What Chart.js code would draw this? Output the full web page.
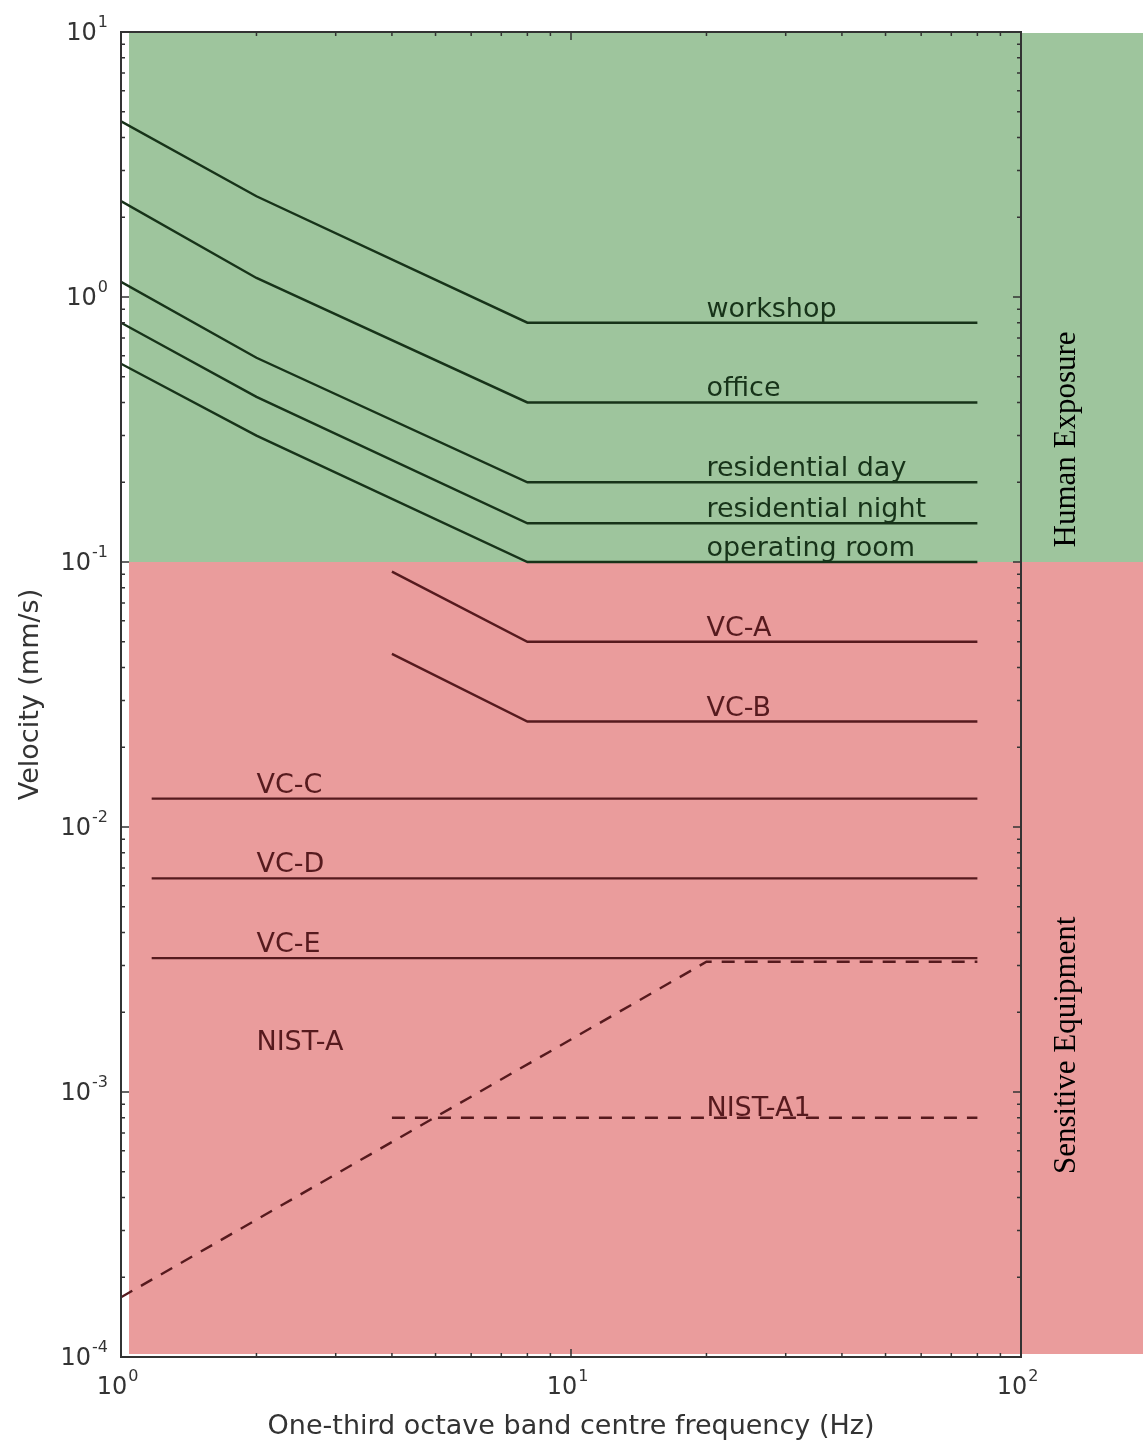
<!DOCTYPE html>
<html>
<head>
<meta charset="utf-8">
<script src="https://cdn.jsdelivr.net/npm/chart.js@4.4.1/dist/chart.umd.min.js"></script>
<style>
    body { margin: 0; background: #fff; }
    #wrap { width: 1143px; height: 1443px; }
</style>
</head>
<body>
<div id="wrap"><canvas id="vibChart" width="1143" height="1443"></canvas></div>
<script>
// frequencies (Hz) and velocities (mm/s)
const freqHuman = [1, 2, 8, 80];
const workshop = [4.6, 2.4, 0.8, 0.8];
const office = [2.3, 1.18, 0.4, 0.4];
const residentialDay = [1.14, 0.59, 0.2, 0.2];
const residentialNight = [0.8, 0.42, 0.14, 0.14];
const operatingRoom = [0.56, 0.3, 0.1, 0.1];

const freqVcAB = [4, 8, 80];
const vcA = [0.092, 0.05, 0.05];
const vcB = [0.045, 0.025, 0.025];

const freqVcCDE = [1.17, 80];
const vcC = [0.0128, 0.0128];
const vcD = [0.0064, 0.0064];
const vcE = [0.0032, 0.0032];

const freqNistA = [1, 20, 80];
const nistA = [0.000168, 0.0031, 0.0031];
const freqNistA1 = [4, 80];
const nistA1 = [0.0008, 0.0008];

// curve labels: text, frequency of the left edge, velocity it sits on
const labelText = ["workshop", "office", "residential day", "residential night", "operating room",
    "VC-A", "VC-B", "VC-C", "VC-D", "VC-E", "NIST-A", "NIST-A1"];
const labelFreq = [20, 20, 20, 20, 20, 20, 20, 2, 2, 2, 2, 20];
const labelVel = [0.8, 0.4, 0.2, 0.14, 0.1, 0.05, 0.025, 0.0128, 0.0064, 0.0032, 0.00137, 0.00077];

const xDecades = [1, 10, 100];
const yDecades = [10, 1, 0.1, 0.01, 0.001, 0.0001];

const GREEN = "rgb(158,197,157)";
const RED = "rgb(234,156,156)";
const LINE_G = "#173319";
const LINE_R = "#561a1e";

function pts(xs, ys) {
    return xs.map((x, i) => ({ x: x, y: ys[i] }));
}

function series(name, xs, ys, color, dashed) {
    return {
        label: name,
        data: pts(xs, ys),
        borderColor: color,
        borderWidth: 2.4,
        borderDash: dashed ? [13, 10] : [],
        pointRadius: 0,
        fill: false,
        tension: 0,
    };
}

function drawPow(ctx, exp, x, y, align) {
    ctx.font = "24px 'DejaVu Sans'";
    const wBase = ctx.measureText("10").width;
    ctx.font = "16px 'DejaVu Sans'";
    const wExp = ctx.measureText(exp).width;
    let left = x;
    if (align === "right") left = x - wBase - wExp;
    if (align === "center") left = x - (wBase + wExp) / 2;
    ctx.textAlign = "left";
    ctx.textBaseline = "middle";
    ctx.font = "24px 'DejaVu Sans'";
    ctx.fillText("10", left, y);
    ctx.font = "16px 'DejaVu Sans'";
    ctx.fillText(exp, left + wBase + 1, y - 11);
}

const bandsPlugin = {
    id: "bands",
    beforeDatasetsDraw(chart) {
        const { ctx, chartArea } = chart;
        const y = chart.scales.y;
        const top = y.getPixelForValue(10);
        const mid = y.getPixelForValue(0.1);
        const bot = y.getPixelForValue(0.0001);
        const left = chartArea.left + 8;
        ctx.save();
        ctx.fillStyle = GREEN;
        ctx.fillRect(left, top + 1, chart.width - left, mid - top - 1);
        ctx.fillStyle = RED;
        ctx.fillRect(left, mid, chart.width - left, bot - 3 - mid);
        ctx.restore();
    },
};

const axesPlugin = {
    id: "axesText",
    afterDraw(chart) {
        const { ctx, chartArea } = chart;
        const x = chart.scales.x;
        const y = chart.scales.y;
        const L = chartArea.left, R = chartArea.right, T = chartArea.top, B = chartArea.bottom;
        ctx.save();

        // frame
        ctx.strokeStyle = "#333";
        ctx.lineWidth = 2;
        ctx.strokeRect(L, T, R - L, B - T);

        // inward ticks, major + minor
        ctx.lineWidth = 1.5;
        ctx.beginPath();
        for (let d = 1; d < 100; d *= 10) {
            for (let m = 1; m < 10; m++) {
                const px = x.getPixelForValue(d * m);
                const len = m === 1 ? 8 : 4;
                ctx.moveTo(px, B); ctx.lineTo(px, B - len);
                ctx.moveTo(px, T); ctx.lineTo(px, T + len);
            }
        }
        for (let d = 0.0001; d < 10; d *= 10) {
            for (let m = 1; m < 10; m++) {
                const py = y.getPixelForValue(d * m);
                const len = m === 1 ? 8 : 4;
                ctx.moveTo(L, py); ctx.lineTo(L + len, py);
                ctx.moveTo(R, py); ctx.lineTo(R - len, py);
            }
        }
        ctx.stroke();

        // tick labels
        ctx.fillStyle = "#333";
        xDecades.forEach((v) => {
            drawPow(ctx, String(Math.round(Math.log10(v))), x.getPixelForValue(v) - 4, B + 31, "center");
        });
        yDecades.forEach((v) => {
            const e = Math.round(Math.log10(v));
            drawPow(ctx, e < 0 ? "-" + (-e) : String(e), L - 14, y.getPixelForValue(v) + 2, "right");
        });

        // axis titles
        ctx.font = "27px 'DejaVu Sans'";
        ctx.textAlign = "center";
        ctx.textBaseline = "alphabetic";
        ctx.fillText("One-third octave band centre frequency (Hz)", (L + R) / 2, 1434);
        ctx.save();
        ctx.translate(38, (T + B) / 2);
        ctx.rotate(-Math.PI / 2);
        ctx.fillText("Velocity (mm/s)", 0, 0);
        ctx.restore();

        // curve labels
        ctx.font = "27px 'DejaVu Sans'";
        ctx.textAlign = "left";
        ctx.textBaseline = "alphabetic";
        labelText.forEach((t, i) => {
            ctx.fillStyle = labelVel[i] >= 0.1 ? LINE_G : LINE_R;
            ctx.fillText(t, x.getPixelForValue(labelFreq[i]), y.getPixelForValue(labelVel[i]) - 6);
        });

        // band labels
        ctx.fillStyle = "#000";
        ctx.font = "31px 'Liberation Serif'";
        ctx.textAlign = "center";
        ctx.textBaseline = "middle";
        [["Human Exposure", 0.29], ["Sensitive Equipment", 0.0015]].forEach(([t, v]) => {
            ctx.save();
            ctx.translate(1067, y.getPixelForValue(v));
            ctx.rotate(-Math.PI / 2);
            ctx.fillText(t, 0, 0);
            ctx.restore();
        });
        ctx.restore();
    },
};

const vibChart = new Chart(document.getElementById("vibChart"), {
    type: "line",
    data: {
        datasets: [
            series("workshop", freqHuman, workshop, LINE_G),
            series("office", freqHuman, office, LINE_G),
            series("residential day", freqHuman, residentialDay, LINE_G),
            series("residential night", freqHuman, residentialNight, LINE_G),
            series("operating room", freqHuman, operatingRoom, LINE_G),
            series("VC-A", freqVcAB, vcA, LINE_R),
            series("VC-B", freqVcAB, vcB, LINE_R),
            series("VC-C", freqVcCDE, vcC, LINE_R),
            series("VC-D", freqVcCDE, vcD, LINE_R),
            series("VC-E", freqVcCDE, vcE, LINE_R),
            series("NIST-A", freqNistA, nistA, LINE_R, true),
            series("NIST-A1", freqNistA1, nistA1, LINE_R, true),
        ],
    },
    options: {
        responsive: false,
        animation: false,
        layout: { padding: { left: 121, right: 122, top: 32, bottom: 86 } },
        plugins: { legend: { display: false }, tooltip: { enabled: false } },
        scales: {
            x: { type: "logarithmic", min: 1, max: 100, display: false },
            y: { type: "logarithmic", min: 0.0001, max: 10, display: false },
        },
    },
    plugins: [bandsPlugin, axesPlugin],
});
</script>
</body>
</html>
